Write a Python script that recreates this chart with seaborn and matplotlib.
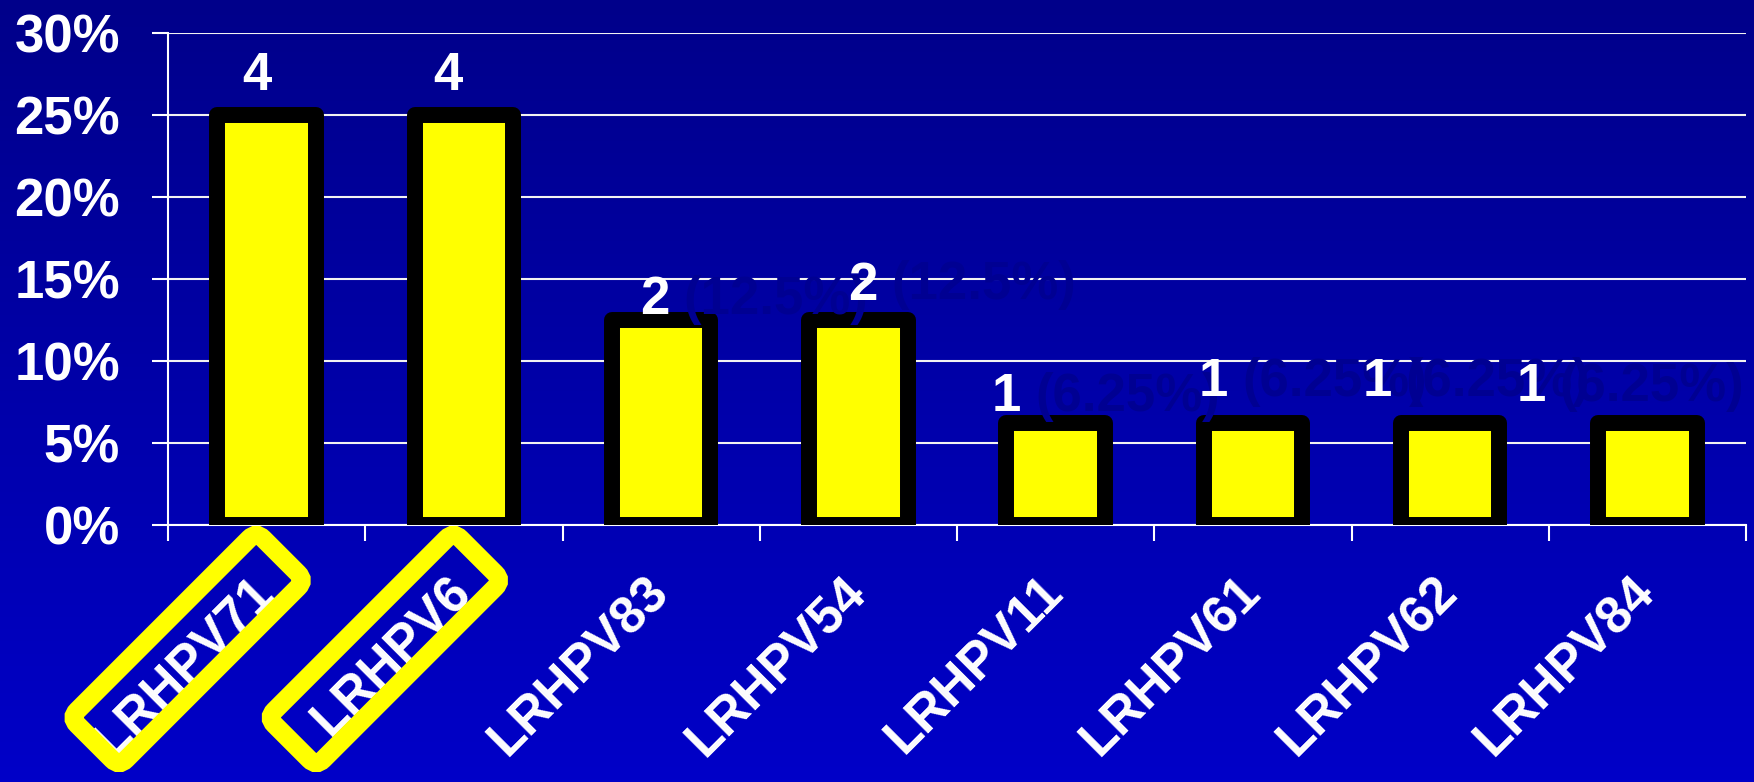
import numpy as np
import pandas as pd
import matplotlib
matplotlib.use('Agg')
import matplotlib.pyplot as plt
import seaborn as sns
from matplotlib.colors import LinearSegmentedColormap
from matplotlib.patches import FancyBboxPatch
from matplotlib.transforms import Affine2D

# data
strains = ['LRHPV71', 'LRHPV6', 'LRHPV83', 'LRHPV54', 'LRHPV11', 'LRHPV61', 'LRHPV62', 'LRHPV84']
counts = [4, 4, 2, 2, 1, 1, 1, 1]
percent = [25, 25, 12.5, 12.5, 6.25, 6.25, 6.25, 6.25]
pct_text = ['', '', '(12.5%)', '(12.5%)', '(6.25%)', '(6.25%)', '(6.25%)', '(6.25%)']
boxed = ['LRHPV71', 'LRHPV6']

# where the (misplaced) count labels sit: shift from bar centre, baseline in %
label_dx = [-0.05, -0.08, -0.03, 0.02, -0.25, -0.20, -0.37, -0.59]
label_base = [26.5, 26.5, 12.85, 13.75, 6.95, 7.85, 7.85, 7.55]

sns.set_style('white')
plt.rcParams['font.family'] = ['Liberation Sans', 'DejaVu Sans']

fig = plt.figure(figsize=(17.54, 7.82), dpi=100)

# blue gradient slide background
bg = fig.add_axes([0, 0, 1, 1])
grad = np.linspace(0, 1, 256)[:, None]
bg.imshow(grad, aspect='auto', extent=[0, 1, 0, 1],
          cmap=LinearSegmentedColormap.from_list('slide', ['#00008A', '#0000C8']))
bg.set_axis_off()

ax = fig.add_axes([168/1754, 257/782, 1578/1754, 492/782])
ax.set_facecolor('none')

df = pd.DataFrame({'strain': strains, 'percent': percent})
sns.barplot(data=df, x='strain', y='percent', color='#FFFF00', saturation=1,
            width=0.5, edgecolor='black', linewidth=11.5, ax=ax, zorder=3)
for p in ax.patches:
    p.set_joinstyle('round')

ax.set_xlim(-0.5, 7.5)
ax.set_ylim(0, 30)
ax.set_xlabel('')
ax.set_ylabel('')

yt = list(range(0, 31, 5))
ax.set_yticks(yt, labels=[f'{v}%' for v in yt], fontsize=38, fontweight='bold', color='white')
ax.yaxis.grid(True, color='#F2F2F2', lw=1.5)
ax.set_axisbelow(True)
ax.tick_params(axis='y', left=True, direction='out', length=11.5, width=1.5, color='white', pad=23)

ax.set_xticks(range(len(strains)), labels=strains, rotation=45, ha='right', va='center',
              rotation_mode='anchor', fontsize=37, fontweight='bold', color='white')
ax.set_xticks(np.arange(-0.5, len(strains), 1), minor=True)
ax.tick_params(axis='x', which='major', bottom=True, length=0, pad=43)
ax.tick_params(axis='x', which='minor', bottom=True, direction='out', length=11.5, width=1.5, color='white')

for s in ['top', 'right']:
    ax.spines[s].set_visible(False)
for s in ['left', 'bottom']:
    ax.spines[s].set_color('white')
    ax.spines[s].set_linewidth(1.5)

# count labels with the dim percentage text next to them
for i in range(len(strains)):
    t = ax.text(i + label_dx[i], label_base[i], str(counts[i]), ha='center', va='baseline',
                color='white', fontsize=38, fontweight='bold', zorder=6)
    if pct_text[i]:
        ax.annotate(pct_text[i], xy=(1, 0), xycoords=t, xytext=(10, 0),
                    textcoords='offset points', ha='left', va='bottom',
                    color='#000092', fontsize=38, fontweight='bold', zorder=5)

# yellow highlight frames around the first two strain names
for name in boxed:
    i = strains.index(name)
    xd, yd = ax.transData.transform((i, 0))
    frame = FancyBboxPatch((-131.5, -34.5), 263, 69,
                           boxstyle='round,pad=0,rounding_size=10',
                           fc='none', ec='#FFFF00', lw=13.5, zorder=6, clip_on=False,
                           transform=Affine2D().rotate_deg(45).translate(xd - 79, yd - 124))
    fig.add_artist(frame)

fig.savefig('out.png', dpi=100)
